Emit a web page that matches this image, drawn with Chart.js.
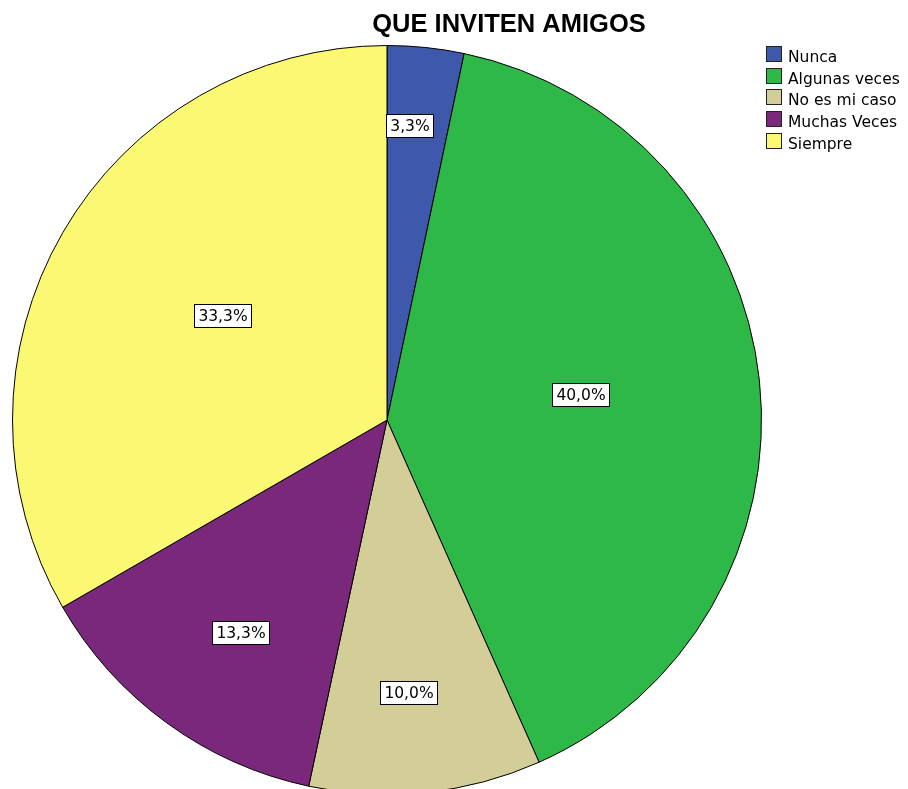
<!DOCTYPE html>
<html>
<head>
<meta charset="utf-8">
<script src="https://cdn.jsdelivr.net/npm/chart.js@4/dist/chart.umd.min.js"></script>
<style>
  html, body { margin: 0; padding: 0; background: #fff; overflow: hidden; }
  #wrap { width: 908px; height: 789px; overflow: hidden; position: relative; }
  canvas { display: block; }
</style>
</head>
<body>
<div id="wrap"><canvas id="c" width="908" height="800"></canvas></div>
<script>
// Survey answers and their shares (%)
const chartTitle = 'QUE INVITEN AMIGOS';
const categories = ['Nunca', 'Algunas veces', 'No es mi caso', 'Muchas Veces', 'Siempre'];
const percents = [3.3, 40.0, 10.0, 13.3, 33.3];

// Styling
const sliceColors = ['#3E58AC', '#2EB848', '#D3CE97', '#7A287C', '#FBF873'];
const labelRadius = [0.79, 0.52, 0.73, 0.69, 0.52]; // fraction of radius where each value box sits
const labelAngle = [0.37, 0.49, 0.54, 0.47, 0.52];  // position across each slice (0 = start, 1 = end)
const LABEL_FONT = '"DejaVu Sans", Verdana, sans-serif';
const TITLE_FONT = '"Liberation Sans", Arial, sans-serif';

const fmt = v => v.toFixed(1).replace('.', ',') + '%';

// Boxed percentage labels inside the slices
const valueBoxes = {
  id: 'valueBoxes',
  afterDatasetsDraw(chart) {
    const ctx = chart.ctx;
    const meta = chart.getDatasetMeta(0);
    const values = chart.data.datasets[0].data;
    ctx.save();
    ctx.font = '15.5px ' + LABEL_FONT;
    ctx.textAlign = 'center';
    ctx.textBaseline = 'middle';
    meta.data.forEach((arc, i) => {
      const p = arc.getProps(['x', 'y', 'startAngle', 'endAngle', 'outerRadius'], true);
      const ang = p.startAngle + (p.endAngle - p.startAngle) * labelAngle[i];
      const r = p.outerRadius * labelRadius[i];
      const cx = p.x + Math.cos(ang) * r;
      const cy = p.y + Math.sin(ang) * r;
      const txt = fmt(values[i]);
      const w = Math.round(ctx.measureText(txt).width) + 8;
      const h = 23;
      const bx = Math.round(cx - w / 2) + 0.5;
      const by = Math.round(cy - h / 2) + 0.5;
      ctx.fillStyle = '#fff';
      ctx.fillRect(bx, by, w, h);
      ctx.strokeStyle = '#000';
      ctx.lineWidth = 1;
      ctx.strokeRect(bx, by, w, h);
      ctx.fillStyle = '#000';
      ctx.fillText(txt, bx + w / 2, by + h / 2 + 1);
    });
    ctx.restore();
  }
};

// Title and legend drawn at fixed spots beside the pie
const decorations = {
  id: 'decorations',
  afterDraw(chart) {
    const ctx = chart.ctx;
    ctx.save();
    ctx.fillStyle = '#000';
    ctx.font = 'bold 25.5px ' + TITLE_FONT;
    ctx.textAlign = 'center';
    ctx.textBaseline = 'alphabetic';
    ctx.fillText(chartTitle, 509, 32);

    ctx.font = '15.5px ' + LABEL_FONT;
    ctx.textAlign = 'left';
    const colors = chart.data.datasets[0].backgroundColor;
    chart.data.labels.forEach((lab, i) => {
      const top = Math.round(46 + i * 21.7);
      ctx.fillStyle = colors[i];
      ctx.fillRect(766.5, top + 0.5, 15, 15);
      ctx.strokeStyle = '#222';
      ctx.lineWidth = 1;
      ctx.strokeRect(766.5, top + 0.5, 15, 15);
      ctx.fillStyle = '#000';
      ctx.fillText(lab, 788, top + 16);
    });
    ctx.restore();
  }
};

new Chart(document.getElementById('c'), {
  type: 'pie',
  data: {
    labels: categories,
    datasets: [{
      data: percents,
      backgroundColor: sliceColors,
      borderColor: '#000',
      borderWidth: 1
    }]
  },
  options: {
    responsive: false,
    animation: false,
    devicePixelRatio: 1,
    layout: { padding: { left: 12, right: 146, top: 45, bottom: 5 } },
    plugins: {
      legend: { display: false },
      title: { display: false },
      tooltip: { enabled: false }
    }
  },
  plugins: [valueBoxes, decorations]
});
</script>
</body>
</html>
